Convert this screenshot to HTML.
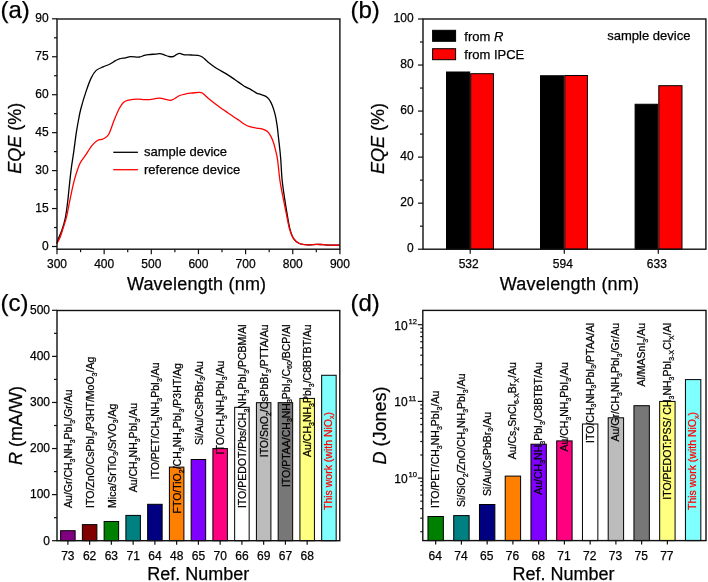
<!DOCTYPE html>
<html><head><meta charset="utf-8"><style>
html,body{margin:0;padding:0;background:#fff;}
svg{display:block;font-family:"Liberation Sans", sans-serif;filter:blur(0.45px);}
text{stroke:#000;stroke-width:0.25px;}
text.r{stroke:#f00;}
</style></head><body>
<svg width="708" height="582" viewBox="0 0 708 582" font-family='"Liberation Sans", sans-serif' fill="#000">
<text x="0.5" y="18" font-size="24">(a)</text>
<line x1="57.00" y1="249.2" x2="57.00" y2="254.2" stroke="#111" stroke-width="1.2"/>
<text x="57.00" y="268.3" font-size="12" text-anchor="middle">300</text>
<line x1="80.57" y1="249.2" x2="80.57" y2="252.2" stroke="#111" stroke-width="1.2"/>
<line x1="104.15" y1="249.2" x2="104.15" y2="254.2" stroke="#111" stroke-width="1.2"/>
<text x="104.15" y="268.3" font-size="12" text-anchor="middle">400</text>
<line x1="127.72" y1="249.2" x2="127.72" y2="252.2" stroke="#111" stroke-width="1.2"/>
<line x1="151.30" y1="249.2" x2="151.30" y2="254.2" stroke="#111" stroke-width="1.2"/>
<text x="151.30" y="268.3" font-size="12" text-anchor="middle">500</text>
<line x1="174.88" y1="249.2" x2="174.88" y2="252.2" stroke="#111" stroke-width="1.2"/>
<line x1="198.45" y1="249.2" x2="198.45" y2="254.2" stroke="#111" stroke-width="1.2"/>
<text x="198.45" y="268.3" font-size="12" text-anchor="middle">600</text>
<line x1="222.02" y1="249.2" x2="222.02" y2="252.2" stroke="#111" stroke-width="1.2"/>
<line x1="245.60" y1="249.2" x2="245.60" y2="254.2" stroke="#111" stroke-width="1.2"/>
<text x="245.60" y="268.3" font-size="12" text-anchor="middle">700</text>
<line x1="269.17" y1="249.2" x2="269.17" y2="252.2" stroke="#111" stroke-width="1.2"/>
<line x1="292.75" y1="249.2" x2="292.75" y2="254.2" stroke="#111" stroke-width="1.2"/>
<text x="292.75" y="268.3" font-size="12" text-anchor="middle">800</text>
<line x1="316.32" y1="249.2" x2="316.32" y2="252.2" stroke="#111" stroke-width="1.2"/>
<line x1="339.90" y1="249.2" x2="339.90" y2="254.2" stroke="#111" stroke-width="1.2"/>
<text x="339.90" y="268.3" font-size="12" text-anchor="middle">900</text>
<line x1="52.0" y1="246.50" x2="57.0" y2="246.50" stroke="#111" stroke-width="1.2"/>
<text x="48.6" y="250.00" font-size="12" text-anchor="end">0</text>
<line x1="54.0" y1="227.53" x2="57.0" y2="227.53" stroke="#111" stroke-width="1.2"/>
<line x1="52.0" y1="208.55" x2="57.0" y2="208.55" stroke="#111" stroke-width="1.2"/>
<text x="48.6" y="212.05" font-size="12" text-anchor="end">15</text>
<line x1="54.0" y1="189.57" x2="57.0" y2="189.57" stroke="#111" stroke-width="1.2"/>
<line x1="52.0" y1="170.60" x2="57.0" y2="170.60" stroke="#111" stroke-width="1.2"/>
<text x="48.6" y="174.10" font-size="12" text-anchor="end">30</text>
<line x1="54.0" y1="151.62" x2="57.0" y2="151.62" stroke="#111" stroke-width="1.2"/>
<line x1="52.0" y1="132.65" x2="57.0" y2="132.65" stroke="#111" stroke-width="1.2"/>
<text x="48.6" y="136.15" font-size="12" text-anchor="end">45</text>
<line x1="54.0" y1="113.68" x2="57.0" y2="113.68" stroke="#111" stroke-width="1.2"/>
<line x1="52.0" y1="94.70" x2="57.0" y2="94.70" stroke="#111" stroke-width="1.2"/>
<text x="48.6" y="98.20" font-size="12" text-anchor="end">60</text>
<line x1="54.0" y1="75.73" x2="57.0" y2="75.73" stroke="#111" stroke-width="1.2"/>
<line x1="52.0" y1="56.75" x2="57.0" y2="56.75" stroke="#111" stroke-width="1.2"/>
<text x="48.6" y="60.25" font-size="12" text-anchor="end">75</text>
<line x1="54.0" y1="37.78" x2="57.0" y2="37.78" stroke="#111" stroke-width="1.2"/>
<line x1="52.0" y1="18.80" x2="57.0" y2="18.80" stroke="#111" stroke-width="1.2"/>
<text x="48.6" y="22.30" font-size="12" text-anchor="end">90</text>
<path d="M56.8,243.5 C57.03,242.75 57.38,241.12 58.2,239 C59.02,236.88 60.53,234.18 61.7,230.8 C62.87,227.42 64.20,223.58 65.2,218.7 C66.20,213.82 67.03,206.78 67.7,201.5 C68.37,196.22 68.62,192.40 69.2,187 C69.78,181.60 70.43,175.05 71.2,169.1 C71.97,163.15 72.97,157.25 73.8,151.3 C74.63,145.35 75.42,138.62 76.2,133.4 C76.98,128.18 77.73,124.07 78.5,120 C79.27,115.93 79.57,113.68 80.8,109 C82.03,104.32 84.18,97.05 85.9,91.9 C87.62,86.75 89.38,81.68 91.1,78.1 C92.82,74.52 94.20,72.27 96.2,70.4 C98.20,68.53 100.80,67.97 103.1,66.9 C105.40,65.83 108.00,65.00 110,64 C112.00,63.00 113.53,61.75 115.1,60.9 C116.67,60.05 117.68,59.42 119.4,58.9 C121.12,58.38 123.53,58.18 125.4,57.8 C127.27,57.42 128.30,56.73 130.6,56.6 C132.90,56.47 136.92,57.20 139.2,57 C141.48,56.80 142.73,55.80 144.3,55.4 C145.87,55.00 146.72,54.82 148.6,54.6 C150.48,54.38 153.72,54.25 155.6,54.1 C157.48,53.95 158.48,53.58 159.9,53.7 C161.32,53.82 162.57,54.33 164.1,54.8 C165.63,55.27 167.57,56.22 169.1,56.5 C170.63,56.78 172.02,56.85 173.3,56.5 C174.58,56.15 175.73,54.92 176.8,54.4 C177.87,53.88 178.40,53.33 179.7,53.4 C181.00,53.47 182.72,54.53 184.6,54.8 C186.48,55.07 188.77,54.92 191,55 C193.23,55.08 196.12,54.97 198,55.3 C199.88,55.63 200.65,55.90 202.3,57 C203.95,58.10 205.55,60.03 207.9,61.9 C210.25,63.77 213.33,66.20 216.4,68.2 C219.47,70.20 223.25,72.02 226.3,73.9 C229.35,75.78 232.12,77.73 234.7,79.5 C237.28,81.27 240.00,83.27 241.8,84.5 C243.60,85.73 243.97,86.05 245.5,86.9 C247.03,87.75 249.17,88.57 251,89.6 C252.83,90.63 254.90,92.30 256.5,93.1 C258.10,93.90 259.12,93.90 260.6,94.4 C262.08,94.90 264.02,95.30 265.4,96.1 C266.78,96.90 267.75,97.65 268.9,99.2 C270.05,100.75 271.27,102.87 272.3,105.4 C273.33,107.93 274.30,111.07 275.1,114.4 C275.90,117.73 276.53,121.52 277.1,125.4 C277.67,129.28 278.03,133.58 278.5,137.7 C278.97,141.82 279.52,146.38 279.9,150.1 C280.28,153.82 280.42,154.88 280.8,160 C281.18,165.12 281.53,174.18 282.2,180.8 C282.87,187.42 283.95,193.98 284.8,199.7 C285.65,205.42 286.45,210.23 287.3,215.1 C288.15,219.97 288.88,225.03 289.9,228.9 C290.92,232.77 291.82,235.87 293.4,238.3 C294.98,240.73 296.97,242.40 299.4,243.5 C301.83,244.60 305.15,244.77 308,244.9 C310.85,245.03 313.93,244.33 316.5,244.3 C319.07,244.27 320.53,244.55 323.4,244.7 C326.27,244.85 330.98,245.12 333.7,245.2 C336.42,245.28 338.70,245.20 339.7,245.2" stroke="#000" stroke-width="1.3" fill="none"/>
<path d="M56.8,243.5 C56.93,243.30 57.07,243.28 57.6,242.3 C58.13,241.32 59.03,240.10 60,237.6 C60.97,235.10 62.25,231.02 63.4,227.3 C64.55,223.58 65.75,220.17 66.9,215.3 C68.05,210.43 69.02,204.12 70.3,198.1 C71.58,192.08 73.02,184.93 74.6,179.2 C76.18,173.47 78.03,167.62 79.8,163.7 C81.57,159.78 83.18,158.70 85.2,155.7 C87.22,152.70 89.87,148.23 91.9,145.7 C93.93,143.17 95.55,141.62 97.4,140.5 C99.25,139.38 101.13,140.00 103,139 C104.87,138.00 106.73,137.67 108.6,134.5 C110.47,131.33 112.40,124.38 114.2,120 C116.00,115.62 117.82,111.17 119.4,108.2 C120.98,105.23 122.12,103.55 123.7,102.2 C125.28,100.85 126.60,100.62 128.9,100.1 C131.20,99.58 134.93,99.18 137.5,99.1 C140.07,99.02 142.22,99.52 144.3,99.6 C146.38,99.68 148.22,99.75 150,99.6 C151.78,99.45 153.35,98.93 155,98.7 C156.65,98.47 157.43,97.93 159.9,98.2 C162.37,98.47 167.45,100.17 169.8,100.3 C172.15,100.43 172.35,99.80 174,99 C175.65,98.20 177.58,96.38 179.7,95.5 C181.82,94.62 184.58,94.12 186.7,93.7 C188.82,93.28 190.40,93.23 192.4,93 C194.40,92.77 197.05,92.30 198.7,92.3 C200.35,92.30 200.77,92.07 202.3,93 C203.83,93.93 205.32,95.78 207.9,97.9 C210.48,100.02 214.50,103.23 217.8,105.7 C221.10,108.17 224.40,110.42 227.7,112.7 C231.00,114.98 235.55,118.02 237.6,119.4 C239.65,120.78 238.92,120.23 240,121 C241.08,121.77 242.50,123.05 244.1,124 C245.70,124.95 247.53,126.02 249.6,126.7 C251.67,127.38 254.43,127.75 256.5,128.1 C258.57,128.45 260.17,128.23 262,128.8 C263.83,129.37 266.02,130.23 267.5,131.5 C268.98,132.77 269.87,134.45 270.9,136.4 C271.93,138.35 272.90,140.80 273.7,143.2 C274.50,145.60 275.05,148.00 275.7,150.8 C276.35,153.60 276.88,155.00 277.6,160 C278.32,165.00 279.02,174.18 280.0,180.8 C280.98,187.42 282.40,193.98 283.5,199.7 C284.60,205.42 285.60,210.23 286.6,215.1 C287.60,219.97 288.37,225.03 289.5,228.9 C290.63,232.77 291.75,235.87 293.4,238.3 C295.05,240.73 296.97,242.40 299.4,243.5 C301.83,244.60 305.15,244.77 308,244.9 C310.85,245.03 313.93,244.33 316.5,244.3 C319.07,244.27 320.53,244.55 323.4,244.7 C326.27,244.85 330.98,245.12 333.7,245.2 C336.42,245.28 338.70,245.20 339.7,245.2" stroke="#f00" stroke-width="1.3" fill="none"/>
<rect x="57.0" y="19.0" width="282.9" height="230.2" stroke="#111" stroke-width="1.4" fill="none"/>
<line x1="113.3" y1="152.3" x2="137.9" y2="152.3" stroke="#000" stroke-width="1.3"/>
<line x1="113.3" y1="169.7" x2="137.9" y2="169.7" stroke="#f00" stroke-width="1.3"/>
<text x="144" y="155.7" font-size="13">sample device</text>
<text x="144" y="174.2" font-size="13">reference device</text>
<text x="196.6" y="290.3" font-size="18" letter-spacing="0.2" text-anchor="middle">Wavelength (nm)</text>
<text transform="translate(21.2,138.2) rotate(-90)" font-size="18" text-anchor="middle"><tspan font-style="italic">EQE</tspan> (%)</text>
<text x="350.5" y="18" font-size="24">(b)</text>
<line x1="418" y1="249.20" x2="423" y2="249.20" stroke="#111" stroke-width="1.2"/>
<text x="413.6" y="252.10" font-size="12" text-anchor="end">0</text>
<line x1="420" y1="226.18" x2="423" y2="226.18" stroke="#111" stroke-width="1.2"/>
<line x1="418" y1="203.16" x2="423" y2="203.16" stroke="#111" stroke-width="1.2"/>
<text x="413.6" y="206.06" font-size="12" text-anchor="end">20</text>
<line x1="420" y1="180.14" x2="423" y2="180.14" stroke="#111" stroke-width="1.2"/>
<line x1="418" y1="157.12" x2="423" y2="157.12" stroke="#111" stroke-width="1.2"/>
<text x="413.6" y="160.02" font-size="12" text-anchor="end">40</text>
<line x1="420" y1="134.10" x2="423" y2="134.10" stroke="#111" stroke-width="1.2"/>
<line x1="418" y1="111.08" x2="423" y2="111.08" stroke="#111" stroke-width="1.2"/>
<text x="413.6" y="113.98" font-size="12" text-anchor="end">60</text>
<line x1="420" y1="88.06" x2="423" y2="88.06" stroke="#111" stroke-width="1.2"/>
<line x1="418" y1="65.04" x2="423" y2="65.04" stroke="#111" stroke-width="1.2"/>
<text x="413.6" y="67.94" font-size="12" text-anchor="end">80</text>
<line x1="420" y1="42.02" x2="423" y2="42.02" stroke="#111" stroke-width="1.2"/>
<line x1="418" y1="19.00" x2="423" y2="19.00" stroke="#111" stroke-width="1.2"/>
<text x="413.6" y="21.90" font-size="12" text-anchor="end">100</text>
<rect x="446.5" y="72.0" width="23.19999999999999" height="177.2" fill="#000" stroke="#000" stroke-width="1"/>
<rect x="470.7" y="73.7" width="22.80000000000001" height="175.5" fill="#f00" stroke="#000" stroke-width="1"/>
<rect x="540.5" y="75.75" width="23.299999999999955" height="173.45" fill="#000" stroke="#000" stroke-width="1"/>
<rect x="564.8" y="75.5" width="22.600000000000023" height="173.7" fill="#f00" stroke="#000" stroke-width="1"/>
<rect x="635.1" y="104.25" width="22.699999999999932" height="144.95" fill="#000" stroke="#000" stroke-width="1"/>
<rect x="658.8" y="85.7" width="23.200000000000045" height="163.5" fill="#f00" stroke="#000" stroke-width="1"/>
<line x1="470.2" y1="249.2" x2="470.2" y2="253.7" stroke="#111" stroke-width="1.2"/>
<text x="468.7" y="268.0" font-size="12" text-anchor="middle">532</text>
<line x1="564.3" y1="249.2" x2="564.3" y2="253.7" stroke="#111" stroke-width="1.2"/>
<text x="562.8" y="268.0" font-size="12" text-anchor="middle">594</text>
<line x1="658.3" y1="249.2" x2="658.3" y2="253.7" stroke="#111" stroke-width="1.2"/>
<text x="656.8" y="268.0" font-size="12" text-anchor="middle">633</text>
<rect x="423" y="19" width="282.9" height="230.2" stroke="#111" stroke-width="1.4" fill="none"/>
<rect x="432.6" y="30.3" width="23" height="11" fill="#000" stroke="#000" stroke-width="1"/>
<rect x="432.6" y="48.7" width="23" height="11" fill="#f00" stroke="#000" stroke-width="1"/>
<text x="464.3" y="40.8" font-size="13">from <tspan font-style="italic">R</tspan></text>
<text x="464.3" y="58.8" font-size="13">from IPCE</text>
<text x="607.3" y="40.3" font-size="13">sample device</text>
<text x="569.5" y="290" font-size="18" letter-spacing="0.2" text-anchor="middle">Wavelength (nm)</text>
<text transform="translate(384,138.4) rotate(-90)" font-size="18" text-anchor="middle"><tspan font-style="italic">EQE</tspan> (%)</text>
<text x="0.5" y="310.8" font-size="24">(c)</text>
<line x1="52" y1="540.70" x2="57" y2="540.70" stroke="#111" stroke-width="1.2"/>
<text x="50" y="544.50" font-size="12" text-anchor="end">0</text>
<line x1="54" y1="517.66" x2="57" y2="517.66" stroke="#111" stroke-width="1.2"/>
<line x1="52" y1="494.62" x2="57" y2="494.62" stroke="#111" stroke-width="1.2"/>
<text x="50" y="498.42" font-size="12" text-anchor="end">100</text>
<line x1="54" y1="471.58" x2="57" y2="471.58" stroke="#111" stroke-width="1.2"/>
<line x1="52" y1="448.54" x2="57" y2="448.54" stroke="#111" stroke-width="1.2"/>
<text x="50" y="452.34" font-size="12" text-anchor="end">200</text>
<line x1="54" y1="425.50" x2="57" y2="425.50" stroke="#111" stroke-width="1.2"/>
<line x1="52" y1="402.46" x2="57" y2="402.46" stroke="#111" stroke-width="1.2"/>
<text x="50" y="406.26" font-size="12" text-anchor="end">300</text>
<line x1="54" y1="379.42" x2="57" y2="379.42" stroke="#111" stroke-width="1.2"/>
<line x1="52" y1="356.38" x2="57" y2="356.38" stroke="#111" stroke-width="1.2"/>
<text x="50" y="360.18" font-size="12" text-anchor="end">400</text>
<line x1="54" y1="333.34" x2="57" y2="333.34" stroke="#111" stroke-width="1.2"/>
<line x1="52" y1="310.30" x2="57" y2="310.30" stroke="#111" stroke-width="1.2"/>
<text x="50" y="314.10" font-size="12" text-anchor="end">500</text>
<rect x="60.63" y="530.70" width="14.5" height="10.00" fill="#800080" stroke="#000" stroke-width="1"/>
<line x1="67.88" y1="540.7" x2="67.88" y2="544.7" stroke="#111" stroke-width="1.2"/>
<text x="67.88" y="559.6" font-size="12" text-anchor="middle">73</text>
<rect x="82.38" y="524.62" width="14.5" height="16.08" fill="#800000" stroke="#000" stroke-width="1"/>
<line x1="89.63" y1="540.7" x2="89.63" y2="544.7" stroke="#111" stroke-width="1.2"/>
<text x="89.63" y="559.6" font-size="12" text-anchor="middle">62</text>
<rect x="104.13" y="521.48" width="14.5" height="19.22" fill="#008000" stroke="#000" stroke-width="1"/>
<line x1="111.38" y1="540.7" x2="111.38" y2="544.7" stroke="#111" stroke-width="1.2"/>
<text x="111.38" y="559.6" font-size="12" text-anchor="middle">63</text>
<rect x="125.89" y="515.40" width="14.5" height="25.30" fill="#008080" stroke="#000" stroke-width="1"/>
<line x1="133.14" y1="540.7" x2="133.14" y2="544.7" stroke="#111" stroke-width="1.2"/>
<text x="133.14" y="559.6" font-size="12" text-anchor="middle">71</text>
<rect x="147.64" y="504.30" width="14.5" height="36.40" fill="#000080" stroke="#000" stroke-width="1"/>
<line x1="154.89" y1="540.7" x2="154.89" y2="544.7" stroke="#111" stroke-width="1.2"/>
<text x="154.89" y="559.6" font-size="12" text-anchor="middle">64</text>
<rect x="169.40" y="467.11" width="14.5" height="73.59" fill="#ff8000" stroke="#000" stroke-width="1"/>
<line x1="176.65" y1="540.7" x2="176.65" y2="544.7" stroke="#111" stroke-width="1.2"/>
<text x="176.65" y="559.6" font-size="12" text-anchor="middle">48</text>
<rect x="191.15" y="459.51" width="14.5" height="81.19" fill="#8000ff" stroke="#000" stroke-width="1"/>
<line x1="198.40" y1="540.7" x2="198.40" y2="544.7" stroke="#111" stroke-width="1.2"/>
<text x="198.40" y="559.6" font-size="12" text-anchor="middle">65</text>
<rect x="212.90" y="448.59" width="14.5" height="92.11" fill="#ff0080" stroke="#000" stroke-width="1"/>
<line x1="220.15" y1="540.7" x2="220.15" y2="544.7" stroke="#111" stroke-width="1.2"/>
<text x="220.15" y="559.6" font-size="12" text-anchor="middle">70</text>
<rect x="234.66" y="407.30" width="14.5" height="133.40" fill="#fff" stroke="#000" stroke-width="1"/>
<line x1="241.91" y1="540.7" x2="241.91" y2="544.7" stroke="#111" stroke-width="1.2"/>
<text x="241.91" y="559.6" font-size="12" text-anchor="middle">66</text>
<rect x="256.41" y="402.69" width="14.5" height="138.01" fill="#bcbcbc" stroke="#000" stroke-width="1"/>
<line x1="263.66" y1="540.7" x2="263.66" y2="544.7" stroke="#111" stroke-width="1.2"/>
<text x="263.66" y="559.6" font-size="12" text-anchor="middle">69</text>
<rect x="278.17" y="402.69" width="14.5" height="138.01" fill="#777777" stroke="#000" stroke-width="1"/>
<line x1="285.42" y1="540.7" x2="285.42" y2="544.7" stroke="#111" stroke-width="1.2"/>
<text x="285.42" y="559.6" font-size="12" text-anchor="middle">67</text>
<rect x="299.92" y="398.40" width="14.5" height="142.30" fill="#ffff80" stroke="#000" stroke-width="1"/>
<line x1="307.17" y1="540.7" x2="307.17" y2="544.7" stroke="#111" stroke-width="1.2"/>
<text x="307.17" y="559.6" font-size="12" text-anchor="middle">68</text>
<rect x="321.67" y="375.27" width="14.5" height="165.43" fill="#80ffff" stroke="#000" stroke-width="1"/>
<rect x="57" y="310.5" width="282.8" height="230.20000000000005" stroke="#111" stroke-width="1.4" fill="none"/>
<text transform="translate(72.08,507.9) rotate(-90)" font-size="10.5" text-anchor="start" fill="#000" xml:space="preserve">Au/Gr/CH<tspan font-size="7" dy="2.8">3</tspan><tspan dy="-2.8">​</tspan>NH<tspan font-size="7" dy="2.8">3</tspan><tspan dy="-2.8">​</tspan>PbI<tspan font-size="7" dy="2.8">3</tspan><tspan dy="-2.8">​</tspan>/Gr/Au</text>
<text transform="translate(93.83,507.9) rotate(-90)" font-size="10.5" text-anchor="start" fill="#000" xml:space="preserve">ITO/ZnO/CsPbI<tspan font-size="7" dy="2.8">3</tspan><tspan dy="-2.8">​</tspan>/P3HT/MoO<tspan font-size="7" dy="2.8">3</tspan><tspan dy="-2.8">​</tspan>/Ag</text>
<text transform="translate(115.58,507.9) rotate(-90)" font-size="10.5" text-anchor="start" fill="#000" xml:space="preserve">Mica/SrTiO<tspan font-size="7" dy="2.8">3</tspan><tspan dy="-2.8">​</tspan>/SrVO<tspan font-size="7" dy="2.8">3</tspan><tspan dy="-2.8">​</tspan>/Ag</text>
<text transform="translate(137.34,492.3) rotate(-90)" font-size="10.5" text-anchor="start" fill="#000" xml:space="preserve">Au/CH<tspan font-size="7" dy="2.8">3</tspan><tspan dy="-2.8">​</tspan>NH<tspan font-size="7" dy="2.8">3</tspan><tspan dy="-2.8">​</tspan>PbI<tspan font-size="7" dy="2.8">3</tspan><tspan dy="-2.8">​</tspan>/Au</text>
<text transform="translate(159.09,479.5) rotate(-90)" font-size="10.5" text-anchor="start" fill="#000" xml:space="preserve">ITO/PET/CH<tspan font-size="7" dy="2.8">3</tspan><tspan dy="-2.8">​</tspan>NH<tspan font-size="7" dy="2.8">3</tspan><tspan dy="-2.8">​</tspan>PbI<tspan font-size="7" dy="2.8">3</tspan><tspan dy="-2.8">​</tspan>/Au</text>
<text transform="translate(180.85,513.5) rotate(-90)" font-size="10.5" text-anchor="start" fill="#000" xml:space="preserve">FTO/TiO<tspan font-size="7" dy="2.8">2</tspan><tspan dy="-2.8">​</tspan>/CH<tspan font-size="7" dy="2.8">3</tspan><tspan dy="-2.8">​</tspan>NH<tspan font-size="7" dy="2.8">3</tspan><tspan dy="-2.8">​</tspan>PbI<tspan font-size="7" dy="2.8">3</tspan><tspan dy="-2.8">​</tspan>/P3HT/Ag</text>
<text transform="translate(202.60,445) rotate(-90)" font-size="10.5" text-anchor="start" fill="#000" xml:space="preserve">Si/Au/CsPbBr<tspan font-size="7" dy="2.8">3</tspan><tspan dy="-2.8">​</tspan>/Au</text>
<text transform="translate(224.35,454.4) rotate(-90)" font-size="10.5" text-anchor="start" fill="#000" xml:space="preserve">ITO/CH<tspan font-size="7" dy="2.8">3</tspan><tspan dy="-2.8">​</tspan>NH<tspan font-size="7" dy="2.8">3</tspan><tspan dy="-2.8">​</tspan>PbI<tspan font-size="7" dy="2.8">3</tspan><tspan dy="-2.8">​</tspan>/Au</text>
<text transform="translate(246.11,324.4) rotate(-90)" font-size="10.5" text-anchor="end" fill="#000" xml:space="preserve">ITO/PEDOT/Pbs/CH<tspan font-size="7" dy="2.8">3</tspan><tspan dy="-2.8">​</tspan>NH<tspan font-size="7" dy="2.8">3</tspan><tspan dy="-2.8">​</tspan>PbI<tspan font-size="7" dy="2.8">3</tspan><tspan dy="-2.8">​</tspan>/PCBM/Al</text>
<text transform="translate(267.86,324.4) rotate(-90)" font-size="10.5" text-anchor="end" fill="#000" xml:space="preserve">ITO/SnO<tspan font-size="7" dy="2.8">2</tspan><tspan dy="-2.8">​</tspan>/CsPbBr<tspan font-size="7" dy="2.8">3</tspan><tspan dy="-2.8">​</tspan>/PTTA/Au</text>
<text transform="translate(289.62,324.4) rotate(-90)" font-size="10.5" text-anchor="end" fill="#000" xml:space="preserve">ITO/PTAA/CH<tspan font-size="7" dy="2.8">3</tspan><tspan dy="-2.8">​</tspan>NH<tspan font-size="7" dy="2.8">3</tspan><tspan dy="-2.8">​</tspan>PbI<tspan font-size="7" dy="2.8">3</tspan><tspan dy="-2.8">​</tspan>/C<tspan font-size="7" dy="2.8">60</tspan><tspan dy="-2.8">​</tspan>/BCP/Al</text>
<text transform="translate(311.37,324.4) rotate(-90)" font-size="10.5" text-anchor="end" fill="#000" xml:space="preserve">Au/CH<tspan font-size="7" dy="2.8">3</tspan><tspan dy="-2.8">​</tspan>NH<tspan font-size="7" dy="2.8">3</tspan><tspan dy="-2.8">​</tspan>PbI<tspan font-size="7" dy="2.8">3</tspan><tspan dy="-2.8">​</tspan>/C8BTBT/Au</text>
<text transform="translate(331.52,510.0) rotate(-90)" font-size="10.5" text-anchor="start" fill="#f00" class="r" xml:space="preserve">This work (with NiO<tspan font-size="7" dy="2.8">x</tspan><tspan dy="-2.8">​</tspan>)</text>
<text x="198.3" y="579.7" font-size="18" text-anchor="middle">Ref. Number</text>
<text transform="translate(21.8,425.5) rotate(-90)" font-size="18" text-anchor="middle"><tspan font-style="italic">R</tspan> (mA/W)</text>
<text x="350.5" y="310.8" font-size="24">(d)</text>
<line x1="420.3" y1="531.71" x2="422.8" y2="531.71" stroke="#111" stroke-width="1.2"/>
<line x1="420.3" y1="518.20" x2="422.8" y2="518.20" stroke="#111" stroke-width="1.2"/>
<line x1="420.3" y1="508.62" x2="422.8" y2="508.62" stroke="#111" stroke-width="1.2"/>
<line x1="420.3" y1="501.19" x2="422.8" y2="501.19" stroke="#111" stroke-width="1.2"/>
<line x1="420.3" y1="495.12" x2="422.8" y2="495.12" stroke="#111" stroke-width="1.2"/>
<line x1="420.3" y1="489.98" x2="422.8" y2="489.98" stroke="#111" stroke-width="1.2"/>
<line x1="420.3" y1="485.53" x2="422.8" y2="485.53" stroke="#111" stroke-width="1.2"/>
<line x1="420.3" y1="481.61" x2="422.8" y2="481.61" stroke="#111" stroke-width="1.2"/>
<line x1="417.8" y1="478.10" x2="422.8" y2="478.10" stroke="#111" stroke-width="1.2"/>
<text x="394.3" y="483.10" font-size="12">10<tspan font-size="7.6" dx="0.8" dy="-5.8">10</tspan></text>
<line x1="420.3" y1="455.01" x2="422.8" y2="455.01" stroke="#111" stroke-width="1.2"/>
<line x1="420.3" y1="441.50" x2="422.8" y2="441.50" stroke="#111" stroke-width="1.2"/>
<line x1="420.3" y1="431.92" x2="422.8" y2="431.92" stroke="#111" stroke-width="1.2"/>
<line x1="420.3" y1="424.49" x2="422.8" y2="424.49" stroke="#111" stroke-width="1.2"/>
<line x1="420.3" y1="418.42" x2="422.8" y2="418.42" stroke="#111" stroke-width="1.2"/>
<line x1="420.3" y1="413.28" x2="422.8" y2="413.28" stroke="#111" stroke-width="1.2"/>
<line x1="420.3" y1="408.83" x2="422.8" y2="408.83" stroke="#111" stroke-width="1.2"/>
<line x1="420.3" y1="404.91" x2="422.8" y2="404.91" stroke="#111" stroke-width="1.2"/>
<line x1="417.8" y1="401.40" x2="422.8" y2="401.40" stroke="#111" stroke-width="1.2"/>
<text x="394.3" y="406.40" font-size="12">10<tspan font-size="7.6" dx="0.8" dy="-5.8">11</tspan></text>
<line x1="420.3" y1="378.31" x2="422.8" y2="378.31" stroke="#111" stroke-width="1.2"/>
<line x1="420.3" y1="364.80" x2="422.8" y2="364.80" stroke="#111" stroke-width="1.2"/>
<line x1="420.3" y1="355.22" x2="422.8" y2="355.22" stroke="#111" stroke-width="1.2"/>
<line x1="420.3" y1="347.79" x2="422.8" y2="347.79" stroke="#111" stroke-width="1.2"/>
<line x1="420.3" y1="341.72" x2="422.8" y2="341.72" stroke="#111" stroke-width="1.2"/>
<line x1="420.3" y1="336.58" x2="422.8" y2="336.58" stroke="#111" stroke-width="1.2"/>
<line x1="420.3" y1="332.13" x2="422.8" y2="332.13" stroke="#111" stroke-width="1.2"/>
<line x1="420.3" y1="328.21" x2="422.8" y2="328.21" stroke="#111" stroke-width="1.2"/>
<line x1="417.8" y1="324.70" x2="422.8" y2="324.70" stroke="#111" stroke-width="1.2"/>
<text x="394.3" y="329.70" font-size="12">10<tspan font-size="7.6" dx="0.8" dy="-5.8">12</tspan></text>
<rect x="427.97" y="516.50" width="15.4" height="24.10" fill="#008000" stroke="#000" stroke-width="1"/>
<line x1="435.67" y1="540.6" x2="435.67" y2="544.6" stroke="#111" stroke-width="1.2"/>
<text x="435.17" y="559.6" font-size="12" text-anchor="middle">64</text>
<rect x="453.72" y="515.60" width="15.4" height="25.00" fill="#008080" stroke="#000" stroke-width="1"/>
<line x1="461.42" y1="540.6" x2="461.42" y2="544.6" stroke="#111" stroke-width="1.2"/>
<text x="460.92" y="559.6" font-size="12" text-anchor="middle">74</text>
<rect x="479.46" y="504.50" width="15.4" height="36.10" fill="#000080" stroke="#000" stroke-width="1"/>
<line x1="487.16" y1="540.6" x2="487.16" y2="544.6" stroke="#111" stroke-width="1.2"/>
<text x="486.66" y="559.6" font-size="12" text-anchor="middle">65</text>
<rect x="505.21" y="476.10" width="15.4" height="64.50" fill="#ff8000" stroke="#000" stroke-width="1"/>
<line x1="512.91" y1="540.6" x2="512.91" y2="544.6" stroke="#111" stroke-width="1.2"/>
<text x="512.41" y="559.6" font-size="12" text-anchor="middle">76</text>
<rect x="530.95" y="444.20" width="15.4" height="96.40" fill="#8000ff" stroke="#000" stroke-width="1"/>
<line x1="538.65" y1="540.6" x2="538.65" y2="544.6" stroke="#111" stroke-width="1.2"/>
<text x="538.15" y="559.6" font-size="12" text-anchor="middle">68</text>
<rect x="556.70" y="440.90" width="15.4" height="99.70" fill="#ff0080" stroke="#000" stroke-width="1"/>
<line x1="564.40" y1="540.6" x2="564.40" y2="544.6" stroke="#111" stroke-width="1.2"/>
<text x="563.90" y="559.6" font-size="12" text-anchor="middle">71</text>
<rect x="582.45" y="424.00" width="15.4" height="116.60" fill="#fff" stroke="#000" stroke-width="1"/>
<line x1="590.15" y1="540.6" x2="590.15" y2="544.6" stroke="#111" stroke-width="1.2"/>
<text x="589.65" y="559.6" font-size="12" text-anchor="middle">72</text>
<rect x="608.19" y="417.80" width="15.4" height="122.80" fill="#bcbcbc" stroke="#000" stroke-width="1"/>
<line x1="615.89" y1="540.6" x2="615.89" y2="544.6" stroke="#111" stroke-width="1.2"/>
<text x="615.39" y="559.6" font-size="12" text-anchor="middle">73</text>
<rect x="633.94" y="405.70" width="15.4" height="134.90" fill="#777777" stroke="#000" stroke-width="1"/>
<line x1="641.64" y1="540.6" x2="641.64" y2="544.6" stroke="#111" stroke-width="1.2"/>
<text x="641.14" y="559.6" font-size="12" text-anchor="middle">75</text>
<rect x="659.68" y="401.40" width="15.4" height="139.20" fill="#ffff80" stroke="#000" stroke-width="1"/>
<line x1="667.38" y1="540.6" x2="667.38" y2="544.6" stroke="#111" stroke-width="1.2"/>
<text x="666.88" y="559.6" font-size="12" text-anchor="middle">77</text>
<rect x="685.43" y="379.60" width="15.4" height="161.00" fill="#80ffff" stroke="#000" stroke-width="1"/>
<rect x="422.8" y="310.4" width="283.2" height="230.20000000000005" stroke="#111" stroke-width="1.4" fill="none"/>
<text transform="translate(439.17,507.9) rotate(-90)" font-size="10.5" text-anchor="start" fill="#000" xml:space="preserve">ITO/PET/CH<tspan font-size="7" dy="2.8">3</tspan><tspan dy="-2.8">​</tspan>NH<tspan font-size="7" dy="2.8">3</tspan><tspan dy="-2.8">​</tspan>PbI<tspan font-size="7" dy="2.8">3</tspan><tspan dy="-2.8">​</tspan>/Au</text>
<text transform="translate(464.92,507.0) rotate(-90)" font-size="10.5" text-anchor="start" fill="#000" xml:space="preserve">Si/SiO<tspan font-size="7" dy="2.8">2</tspan><tspan dy="-2.8">​</tspan>/ZnO/CH<tspan font-size="7" dy="2.8">3</tspan><tspan dy="-2.8">​</tspan>NH<tspan font-size="7" dy="2.8">3</tspan><tspan dy="-2.8">​</tspan>PbI<tspan font-size="7" dy="2.8">3</tspan><tspan dy="-2.8">​</tspan>/Au</text>
<text transform="translate(490.66,495.9) rotate(-90)" font-size="10.5" text-anchor="start" fill="#000" xml:space="preserve">Si/Au/CsPbBr<tspan font-size="7" dy="2.8">3</tspan><tspan dy="-2.8">​</tspan>/Au</text>
<text transform="translate(516.41,362.2) rotate(-90)" font-size="10.5" text-anchor="end" fill="#000" xml:space="preserve">Au/Cs<tspan font-size="7" dy="2.8">2</tspan><tspan dy="-2.8">​</tspan>SnCl<tspan font-size="7" dy="2.8">6-X</tspan><tspan dy="-2.8">​</tspan>Br<tspan font-size="7" dy="2.8">X</tspan><tspan dy="-2.8">​</tspan>/Au</text>
<text transform="translate(542.15,362.2) rotate(-90)" font-size="10.5" text-anchor="end" fill="#000" xml:space="preserve">Au/CH<tspan font-size="7" dy="2.8">3</tspan><tspan dy="-2.8">​</tspan>NH<tspan font-size="7" dy="2.8">3</tspan><tspan dy="-2.8">​</tspan>PbI<tspan font-size="7" dy="2.8">3</tspan><tspan dy="-2.8">​</tspan>/C8BTBT/Au</text>
<text transform="translate(567.90,362.2) rotate(-90)" font-size="10.5" text-anchor="end" fill="#000" xml:space="preserve">Au/CH<tspan font-size="7" dy="2.8">3</tspan><tspan dy="-2.8">​</tspan>NH<tspan font-size="7" dy="2.8">3</tspan><tspan dy="-2.8">​</tspan>PbI<tspan font-size="7" dy="2.8">3</tspan><tspan dy="-2.8">​</tspan>/Au</text>
<text transform="translate(593.65,323) rotate(-90)" font-size="10.5" text-anchor="end" fill="#000" xml:space="preserve">ITO/CH<tspan font-size="7" dy="2.8">3</tspan><tspan dy="-2.8">​</tspan>NH<tspan font-size="7" dy="2.8">3</tspan><tspan dy="-2.8">​</tspan>PbI<tspan font-size="7" dy="2.8">3</tspan><tspan dy="-2.8">​</tspan>/PTAA/Al</text>
<text transform="translate(619.39,323) rotate(-90)" font-size="10.5" text-anchor="end" fill="#000" xml:space="preserve">Au/Gr/CH<tspan font-size="7" dy="2.8">3</tspan><tspan dy="-2.8">​</tspan>NH<tspan font-size="7" dy="2.8">3</tspan><tspan dy="-2.8">​</tspan>PbI<tspan font-size="7" dy="2.8">3</tspan><tspan dy="-2.8">​</tspan>/Gr/Au</text>
<text transform="translate(645.14,323) rotate(-90)" font-size="10.5" text-anchor="end" fill="#000" xml:space="preserve">Al/MASnI<tspan font-size="7" dy="2.8">3</tspan><tspan dy="-2.8">​</tspan>/Au</text>
<text transform="translate(670.88,323) rotate(-90)" font-size="10.5" text-anchor="end" fill="#000" xml:space="preserve">ITO/PEDOT:PSS/ CH<tspan font-size="7" dy="2.8">3</tspan><tspan dy="-2.8">​</tspan>NH<tspan font-size="7" dy="2.8">3</tspan><tspan dy="-2.8">​</tspan>PbI<tspan font-size="7" dy="2.8">3-X</tspan><tspan dy="-2.8">​</tspan>Cl<tspan font-size="7" dy="2.8">X</tspan><tspan dy="-2.8">​</tspan>/Al</text>
<text transform="translate(695.93,510.0) rotate(-90)" font-size="10.5" text-anchor="start" fill="#f00" class="r" xml:space="preserve">This work (with NiO<tspan font-size="7" dy="2.8">x</tspan><tspan dy="-2.8">​</tspan>)</text>
<text x="563.5" y="579.7" font-size="18" text-anchor="middle">Ref. Number</text>
<text transform="translate(386.2,425.5) rotate(-90)" font-size="18" text-anchor="middle"><tspan font-style="italic">D</tspan> (Jones)</text>
</svg>
</body></html>
